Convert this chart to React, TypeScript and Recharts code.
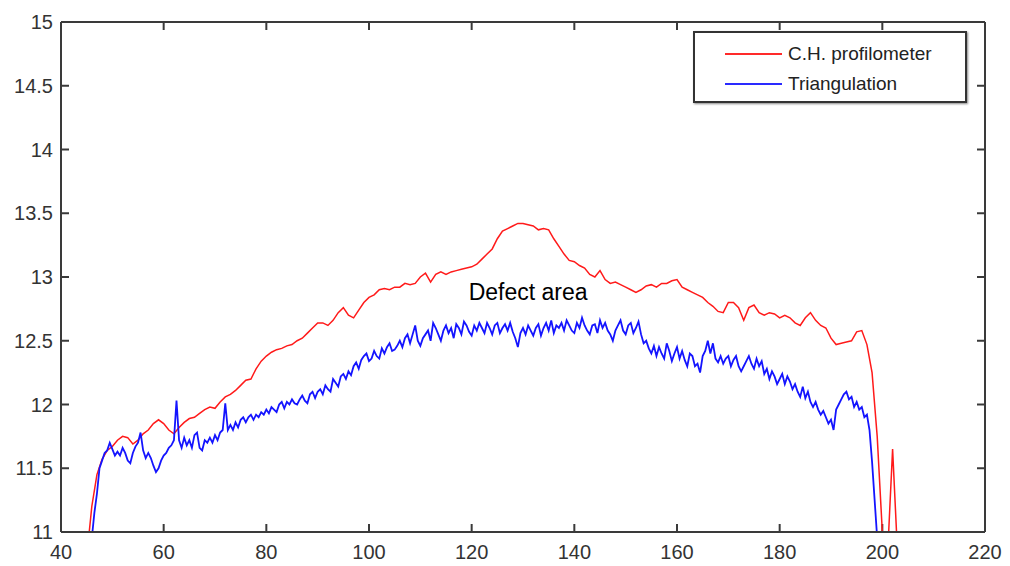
import React from 'react'
import {
  LineChart, Line, XAxis, YAxis, ReferenceDot, ReferenceLine
} from 'recharts'

// sampling grids (x in the same units as the axis)
const redStart = 45
const redStep = 1
const blueStart = 46
const blueStep = 0.5

const xTicks = [40, 60, 80, 100, 120, 140, 160, 180, 200, 220]
const yTicks = [11, 11.5, 12, 12.5, 13, 13.5, 14, 14.5, 15]

// C.H. profilometer, one value per unit from x = 45
const redValues = [
  10.8, 11.2, 11.45, 11.57, 11.64, 11.67, 11.72, 11.75, 11.74, 11.69,
  11.72, 11.77, 11.8, 11.85, 11.88, 11.85, 11.8, 11.77, 11.82, 11.86,
  11.89, 11.9, 11.93, 11.96, 11.98, 11.97, 12.02, 12.06, 12.08, 12.11,
  12.15, 12.19, 12.2, 12.28, 12.34, 12.38, 12.41, 12.43, 12.44, 12.46,
  12.47, 12.5, 12.52, 12.56, 12.6, 12.64, 12.64, 12.62, 12.66, 12.72,
  12.76, 12.7, 12.68, 12.74, 12.8, 12.84, 12.86, 12.9, 12.91, 12.9,
  12.92, 12.92, 12.95, 12.94, 12.95, 13.0, 13.03, 12.96, 13.02, 13.04,
  13.02, 13.04, 13.05, 13.06, 13.07, 13.08, 13.1, 13.14, 13.18, 13.22,
  13.3, 13.36, 13.38, 13.4, 13.42, 13.42, 13.41, 13.4, 13.37, 13.38,
  13.37, 13.3, 13.24, 13.18, 13.13, 13.12, 13.09, 13.07, 13.02, 13.0,
  13.05, 12.98, 12.95, 12.96, 12.94, 12.92, 12.9, 12.88, 12.9, 12.93,
  12.94, 12.92, 12.95, 12.95, 12.97, 12.98, 12.92, 12.9, 12.88, 12.86,
  12.84, 12.8, 12.77, 12.73, 12.72, 12.8, 12.8, 12.76, 12.66, 12.76,
  12.78, 12.72, 12.7, 12.72, 12.71, 12.68, 12.7, 12.68, 12.64, 12.62,
  12.68, 12.72, 12.66, 12.62, 12.6, 12.52, 12.47, 12.48, 12.49, 12.5,
  12.57, 12.58, 12.47, 12.25, 11.75, 11.0, 10.8, 11.65, 10.8
]

// Triangulation, one value per half unit from x = 46
const blueValues = [
  10.95, 11.15, 11.3, 11.5, 11.56, 11.62, 11.64, 11.7, 11.65, 11.6,
  11.63, 11.6, 11.66, 11.62, 11.56, 11.54, 11.62, 11.67, 11.7, 11.78,
  11.64, 11.58, 11.62, 11.58, 11.52, 11.47, 11.5, 11.56, 11.6, 11.62,
  11.66, 11.68, 11.72, 12.03, 11.72, 11.66, 11.74, 11.68, 11.72, 11.66,
  11.76, 11.78, 11.66, 11.64, 11.72, 11.7, 11.74, 11.7, 11.76, 11.72,
  11.78, 11.8, 12.01, 11.8, 11.84, 11.8, 11.86, 11.82, 11.88, 11.9,
  11.86, 11.9, 11.92, 11.88, 11.92, 11.9, 11.94, 11.92, 11.96, 11.93,
  11.98, 11.96, 11.94, 12.0, 12.02, 11.97, 12.02, 12.0, 12.04, 12.01,
  12.0, 12.04, 12.07, 12.03, 12.01, 12.08, 12.1, 12.05, 12.1, 12.12,
  12.08, 12.15, 12.12, 12.1, 12.2, 12.17, 12.14, 12.22, 12.24, 12.2,
  12.26, 12.23, 12.3, 12.33, 12.28, 12.35, 12.38, 12.4, 12.34, 12.36,
  12.42, 12.38, 12.36, 12.44, 12.4, 12.45, 12.48, 12.42, 12.43, 12.46,
  12.5, 12.45, 12.52, 12.55, 12.48, 12.55, 12.62, 12.5, 12.46, 12.52,
  12.55, 12.58, 12.5, 12.64, 12.6, 12.55, 12.5, 12.58, 12.62, 12.56,
  12.6, 12.52, 12.63, 12.6, 12.55, 12.65, 12.62, 12.57, 12.54, 12.62,
  12.58, 12.64, 12.6, 12.56, 12.64, 12.6, 12.55, 12.62, 12.64, 12.56,
  12.6, 12.63, 12.58, 12.64, 12.57, 12.52, 12.45, 12.56, 12.6, 12.55,
  12.62, 12.58, 12.54, 12.6, 12.63, 12.54, 12.6, 12.64, 12.58, 12.66,
  12.56, 12.62, 12.6, 12.64, 12.58, 12.66, 12.62, 12.58, 12.56, 12.64,
  12.6, 12.68, 12.62, 12.58, 12.55, 12.62, 12.63, 12.56, 12.66, 12.6,
  12.64, 12.58, 12.55, 12.5, 12.58, 12.62, 12.66, 12.58, 12.55, 12.62,
  12.64, 12.56, 12.6, 12.65, 12.55, 12.48, 12.5, 12.44, 12.4, 12.46,
  12.38, 12.45, 12.4, 12.36, 12.48, 12.42, 12.34, 12.4, 12.45, 12.36,
  12.42, 12.35, 12.3, 12.4, 12.38, 12.3, 12.32, 12.25, 12.38, 12.42,
  12.5, 12.4, 12.48, 12.36, 12.33, 12.38, 12.32, 12.36, 12.38, 12.3,
  12.35, 12.38, 12.3, 12.26, 12.3, 12.34, 12.38, 12.32, 12.28, 12.36,
  12.3, 12.34, 12.24, 12.28, 12.2, 12.26, 12.22, 12.16, 12.2, 12.24,
  12.16, 12.22, 12.18, 12.12, 12.16, 12.1, 12.06, 12.14, 12.05, 12.1,
  12.02, 11.98, 12.02, 11.96, 11.92, 11.95, 11.9, 11.85, 11.88, 11.8,
  11.96, 12.0, 12.04, 12.08, 12.1, 12.04, 12.06, 11.98, 12.02, 11.96,
  11.98, 11.9, 11.92, 11.8, 11.55, 11.25, 10.95
]

const redData = redValues.map((v, i) => ({ x: redStart + i * redStep, v }))
const blueData = blueValues.map((v, i) => ({ x: blueStart + i * blueStep, v }))

const axisColor = '#3a3a3a'
const font = '"Liberation Sans", Arial, sans-serif'
const axisLine = { stroke: axisColor, strokeWidth: 2 }
const tickLen = 8

const BottomTick = ({ x, y, payload }: any) => (
  <text x={x} y={y + 27} textAnchor="middle" fontSize={20} fill="#333" fontFamily={font}>
    {payload.value}
  </text>
)

const LeftTick = ({ x, y, payload }: any) => (
  <text x={x - 8} y={y + 7} textAnchor="end" fontSize={20} fill="#333" fontFamily={font}>
    {payload.value}
  </text>
)

// inward tick marks (MATLAB style) on both ends of a reference line
const XTickMarks = ({ x1, y1, y2 }: any) => {
  const top = Math.min(y1, y2)
  const bottom = Math.max(y1, y2)
  return (
    <g>
      <line x1={x1} x2={x1} y1={bottom} y2={bottom - tickLen} stroke={axisColor} strokeWidth={2} />
      <line x1={x1} x2={x1} y1={top} y2={top + tickLen} stroke={axisColor} strokeWidth={2} />
    </g>
  )
}

const YTickMarks = ({ x1, x2, y1 }: any) => {
  const left = Math.min(x1, x2)
  const right = Math.max(x1, x2)
  return (
    <g>
      <line x1={left} x2={left + tickLen} y1={y1} y2={y1} stroke={axisColor} strokeWidth={2} />
      <line x1={right} x2={right - tickLen} y1={y1} y2={y1} stroke={axisColor} strokeWidth={2} />
    </g>
  )
}

const LegendBox = () => (
  <div style={{
    position: 'absolute', left: 693, top: 31,
    width: 270, height: 68, border: '2px solid #333', background: '#fff',
    boxShadow: '1px 1px 2px #888', fontFamily: font, fontSize: 19, color: '#222'
  }}>
    <div style={{ display: 'flex', alignItems: 'center', height: 30, marginTop: 6 }}>
      <span style={{ display: 'inline-block', width: 57, height: 2, background: '#ff2a2a', marginLeft: 30, marginRight: 6 }} />
      <span>C.H. profilometer</span>
    </div>
    <div style={{ display: 'flex', alignItems: 'center', height: 30 }}>
      <span style={{ display: 'inline-block', width: 57, height: 2, background: '#2a2aff', marginLeft: 30, marginRight: 6 }} />
      <span>Triangulation</span>
    </div>
  </div>
)

export default function App() {
  return (
    <div style={{ position: 'absolute', left: 0, top: 0, width: 1010, height: 566, background: '#fff' }}>
      <LineChart width={1010} height={566} margin={{ top: 0, right: 0, bottom: 0, left: 0 }}>
        <XAxis
          dataKey="x" type="number" domain={[40, 220]} ticks={xTicks}
          allowDataOverflow height={34} tickSize={0} tickMargin={0}
          tickLine={false} axisLine={axisLine} tick={<BottomTick />}
        />
        <XAxis
          xAxisId="top" orientation="top" dataKey="x" type="number" domain={[40, 220]} ticks={xTicks}
          height={22} tickLine={false} axisLine={axisLine} tick={false}
        />
        <YAxis
          type="number" domain={[11, 15]} ticks={yTicks} allowDataOverflow
          width={61} tickSize={0} tickMargin={0}
          tickLine={false} axisLine={axisLine} tick={<LeftTick />}
        />
        <YAxis
          yAxisId="right" orientation="right" type="number" domain={[11, 15]} ticks={yTicks}
          width={25} tickLine={false} axisLine={axisLine} tick={false}
        />
        {xTicks.slice(1, -1).map(t => (
          <ReferenceLine key={'x' + t} x={t} shape={<XTickMarks />} />
        ))}
        {yTicks.slice(1, -1).map(t => (
          <ReferenceLine key={'y' + t} y={t} shape={<YTickMarks />} />
        ))}
        <Line
          data={redData} dataKey="v" name="C.H. profilometer" type="linear"
          stroke="#ff1a1a" strokeWidth={1.5} dot={false} isAnimationActive={false}
        />
        <Line
          data={blueData} dataKey="v" name="Triangulation" type="linear"
          stroke="#1414ff" strokeWidth={1.8} dot={false} isAnimationActive={false}
        />
        <ReferenceDot
          x={131} y={12.88} r={0} fill="none" stroke="none"
          label={{ value: 'Defect area', position: 'center', fontSize: 23, fill: '#000', fontFamily: font }}
        />
      </LineChart>
      <LegendBox />
    </div>
  )
}
